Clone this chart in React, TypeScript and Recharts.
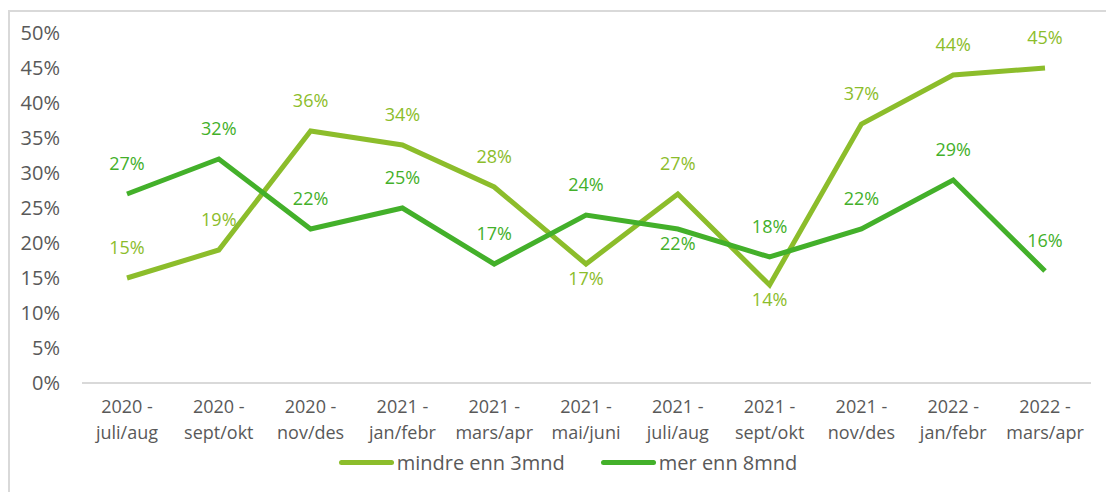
import { LineChart, Line, XAxis, YAxis, LabelList } from 'recharts'

const periods = [
	'2020 - juli/aug',
	'2020 - sept/okt',
	'2020 - nov/des',
	'2021 - jan/febr',
	'2021 - mars/apr',
	'2021 - mai/juni',
	'2021 - juli/aug',
	'2021 - sept/okt',
	'2021 - nov/des',
	'2022 - jan/febr',
	'2022 - mars/apr'
]
const mindre3mnd = [15, 19, 36, 34, 28, 17, 27, 14, 37, 44, 45]
const mer8mnd = [27, 32, 22, 25, 17, 24, 22, 18, 22, 29, 16]
const yTicks = [0, 5, 10, 15, 20, 25, 30, 35, 40, 45, 50]

// which point labels sit under the line instead of over it
const belowLight = [5, 7]
const belowDark = [6]

const LIGHT = '#8cbd2b'
const DARK = '#43b02a'
const TEXT = '#595959'
const FONT = '"Open Sans", sans-serif'

const data = periods.map((p, i) => ({
	period: p,
	mindre: mindre3mnd[i],
	mer: mer8mnd[i]
}))

function makeLabel(color: string, below: number[]) {
	return (props: any) => {
		const { x, y, value, index } = props
		const dy = below.includes(index) ? 21 : -24
		return (
			<text x={x} y={y + dy} textAnchor="middle" fill={color} fontSize={18} fontFamily={FONT}>
				{value}%
			</text>
		)
	}
}

function PeriodTick(props: any) {
	const { x, y, payload } = props
	const [year, months] = String(payload.value).split(' - ')
	return (
		<g transform={`translate(${x},${y})`}>
			<text textAnchor="middle" fill={TEXT} fontSize={18} fontFamily={FONT}>
				<tspan x={0} y={22}>{year} -</tspan>
				<tspan x={0} y={48}>{months}</tspan>
			</text>
		</g>
	)
}

function LegendBox() {
	const items = [
		{ label: 'mindre enn 3mnd', color: LIGHT },
		{ label: 'mer enn 8mnd', color: DARK }
	]
	return (
		<div style={{ position: 'absolute', left: 0, top: 449, width: 1106, display: 'flex', justifyContent: 'center', gap: 36, fontFamily: FONT, fontSize: 20, color: TEXT, paddingLeft: 30, boxSizing: 'border-box' }}>
			{items.map(it => (
				<div key={it.label} style={{ display: 'flex', alignItems: 'center' }}>
					<span style={{ display: 'inline-block', width: 55, height: 5, borderRadius: 3, background: it.color, marginRight: 3 }} />
					{it.label}
				</div>
			))}
		</div>
	)
}

export default function App() {
	return (
		<div style={{ position: 'fixed', left: 0, top: 0, width: 1106, height: 492, overflow: 'hidden', background: '#fff' }}>
			<div style={{ position: 'absolute', left: 8, top: 10, width: 1200, height: 600, border: '2px solid #d9d9d9' }} />
			<div style={{ position: 'absolute', left: 0, top: 0 }}>
				<LineChart width={1106} height={492} data={data} margin={{ top: 33, right: 15, bottom: 49, left: 0 }}>
					<XAxis
						dataKey="period"
						interval={0}
						tickLine={false}
						axisLine={{ stroke: '#d9d9d9', strokeWidth: 2 }}
						padding={{ left: 45, right: 46 }}
						tick={<PeriodTick />}
						height={60}
					/>
					<YAxis
						domain={[0, 50]}
						ticks={yTicks}
						interval={0}
						width={82}
						axisLine={false}
						tickLine={false}
						tickSize={8}
						tickMargin={14}
						tickFormatter={(v: number) => `${v}%`}
						tick={{ fill: TEXT, fontSize: 20, fontFamily: FONT }}
					/>
					<Line dataKey="mindre" name="mindre enn 3mnd" stroke={LIGHT} strokeWidth={5} dot={false} isAnimationActive={false}>
						<LabelList dataKey="mindre" content={makeLabel(LIGHT, belowLight)} />
					</Line>
					<Line dataKey="mer" name="mer enn 8mnd" stroke={DARK} strokeWidth={5} dot={false} isAnimationActive={false}>
						<LabelList dataKey="mer" content={makeLabel(DARK, belowDark)} />
					</Line>
				</LineChart>
			</div>
			<LegendBox />
		</div>
	)
}
